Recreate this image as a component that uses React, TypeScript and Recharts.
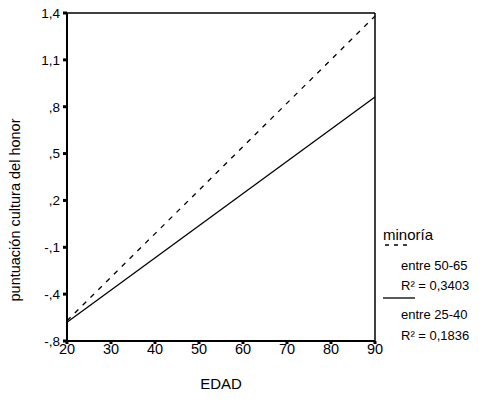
import { Line, LineChart, ReferenceLine, XAxis, YAxis } from "recharts";

// regression lines, age vs score
const edades = [20, 90];
const entre5065 = [-0.57, 1.38];
const entre2540 = [-0.58, 0.862];

const xTicks = [20, 30, 40, 50, 60, 70, 80, 90];
const yTicks = [-0.7, -0.4, -0.1, 0.2, 0.5, 0.8, 1.1, 1.4];
const yTickLabels = ["-,8", "-,4", "-,1", ",2", ",5", ",8", "1,1", "1,4"];

const data = edades.map((edad, i) => ({
  edad,
  a: entre5065[i],
  b: entre2540[i],
}));

const FONT = "'Liberation Sans', Arial, sans-serif";

function LegendBox() {
  return (
    <svg
      width={485}
      height={403}
      style={{ position: "absolute", left: 0, top: 0, fontFamily: FONT, pointerEvents: "none" }}
    >
      <text x={383} y={240} fontSize={15} fill="#000">minoría</text>
      <line x1={385} x2={412} y1={245} y2={245} stroke="#000" strokeWidth={1.3} strokeDasharray="4 5" />
      <text x={401} y={270} fontSize={13} fill="#000">entre 50-65</text>
      <text x={401} y={290} fontSize={13} fill="#000">R² = 0,3403</text>
      <line x1={383} x2={415} y1={298} y2={298} stroke="#000" strokeWidth={1.3} />
      <text x={401} y={319} fontSize={13} fill="#000">entre 25-40</text>
      <text x={401} y={340} fontSize={13} fill="#000">R² = 0,1836</text>
    </svg>
  );
}

export default function App() {
  return (
    <div style={{ position: "absolute", left: 0, top: 0, width: 485, height: 403, background: "#fff" }}>
      <LineChart
        width={485}
        height={403}
        data={data}
        margin={{ top: 13, right: 110, bottom: 0, left: 0 }}
        style={{ fontFamily: FONT }}
      >
        <XAxis
          dataKey="edad"
          type="number"
          domain={[20, 90]}
          ticks={xTicks}
          height={62}
          axisLine={{ stroke: "#000", strokeWidth: 2 }}
          tickLine={{ stroke: "#000", strokeWidth: 3 }}
          tickSize={3}
          tickMargin={0}
          tick={{ fill: "#000", fontSize: 14.5 }}
          label={{
            value: "EDAD",
            position: "insideBottom",
            offset: 14,
            fill: "#000",
            fontSize: 15,
          }}
        />
        <YAxis
          type="number"
          domain={[-0.7, 1.4]}
          ticks={yTicks}
          width={67}
          axisLine={{ stroke: "#000", strokeWidth: 2 }}
          tickLine={{ stroke: "#000", strokeWidth: 3 }}
          tickSize={4}
          tickMargin={3}
          tick={{ fill: "#000", fontSize: 13.5 }}
          tickFormatter={(v: number) => yTickLabels[yTicks.indexOf(v)] ?? String(v)}
          label={{
            content: () => (
              <text
                x={20}
                y={210}
                transform="rotate(-90 20 210)"
                textAnchor="middle"
                fontSize={14.5}
                fill="#000"
                style={{ fontFamily: FONT }}
              >
                puntuación cultura del honor
              </text>
            ),
          }}
        />
        <ReferenceLine y={1.4} stroke="#000" strokeWidth={1.5} />
        <ReferenceLine x={90} stroke="#000" strokeWidth={1.5} />
        <Line
          dataKey="a"
          type="linear"
          stroke="#000"
          strokeWidth={1.3}
          strokeDasharray="5 6"
          dot={false}
          activeDot={false}
          isAnimationActive={false}
        />
        <Line
          dataKey="b"
          type="linear"
          stroke="#000"
          strokeWidth={1.3}
          dot={false}
          activeDot={false}
          isAnimationActive={false}
        />
      </LineChart>
      <LegendBox />
    </div>
  );
}
